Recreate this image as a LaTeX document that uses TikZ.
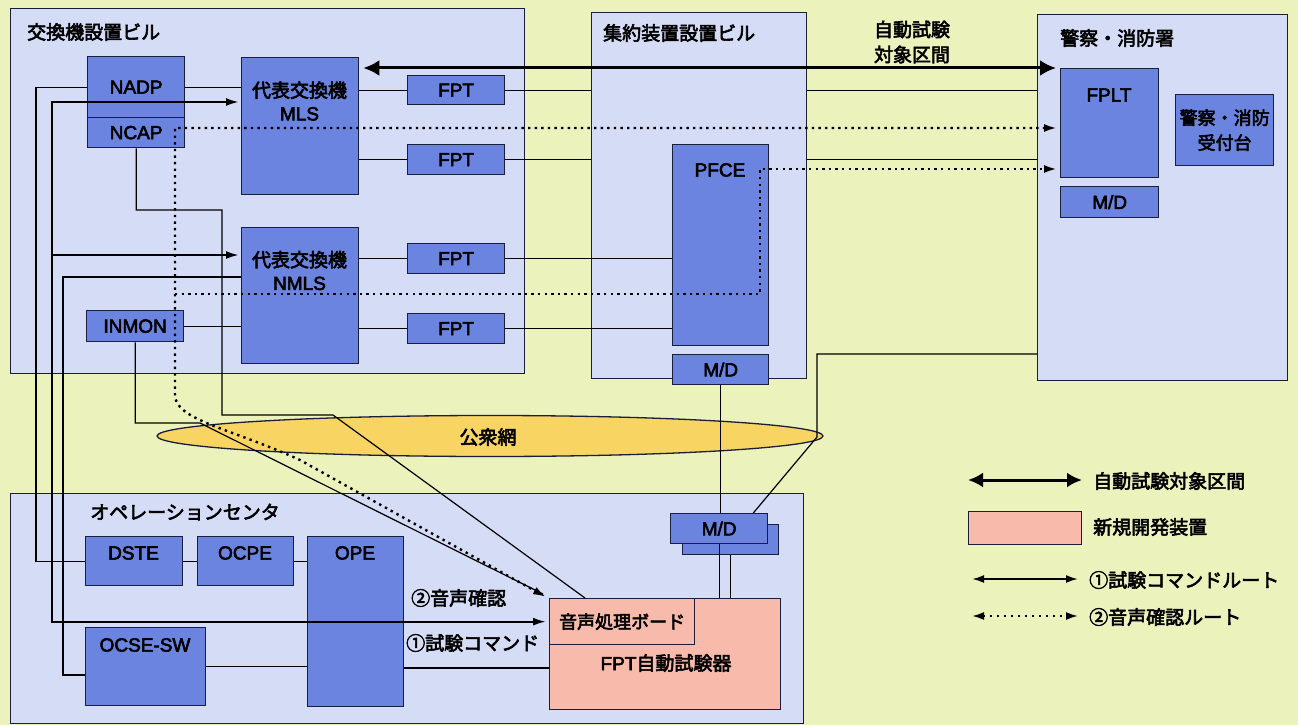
\documentclass[tikz,border=0pt]{standalone}
\usepackage{fontspec}
\setmainfont[UprightFeatures={FakeBold=3}]{Liberation Sans}
\newfontfamily\jp[FakeBold=3]{Noto Sans CJK JP}
\usetikzlibrary{arrows.meta,shapes.geometric,calc}
\definecolor{bgc}{RGB}{236,242,188}
\definecolor{bldc}{RGB}{213,221,246}
\definecolor{boxc}{RGB}{106,132,224}
\definecolor{netc}{RGB}{248,212,98}
\definecolor{newc}{RGB}{248,186,170}
\definecolor{edgec}{RGB}{25,30,60}
\begin{document}
\begin{tikzpicture}[x=1pt,y=-1pt,font=\fontsize{19}{23}\selectfont,
  bld/.style={draw=edgec,line width=1.3pt,fill=bldc,anchor=north west,inner sep=0pt},
  ibox/.style={draw=edgec,line width=1.3pt,fill=boxc,anchor=north west,inner sep=0pt,align=center},
  newbox/.style={draw=edgec,line width=1.3pt,fill=newc,anchor=north west,inner sep=0pt},
  txt/.style={inner sep=0pt,align=center},
  ttl/.style={inner sep=0pt,anchor=west},
  wire/.style={draw=black,line width=1.2pt},
  cmd/.style={draw=black,line width=2.2pt},
  voice/.style={draw=black,line width=2.4pt,dash pattern=on 2.4pt off 4.2pt},
  tipboth/.style={{Latex[length=13pt,width=8pt]}-{Latex[length=13pt,width=8pt]}},
  tipend/.style={-{Latex[length=13pt,width=8pt]}},
  bigarr/.style={line width=3pt,{Latex[length=16pt,width=16pt]}-{Latex[length=16pt,width=16pt]}}]
\useasboundingbox (0,0) rectangle (1298,725);
\fill[bgc] (0,0) rectangle (1298,725);

% buildings
\node[bld,minimum width=514pt,minimum height=365pt] (b1) at (10,8) {};
\node[bld,minimum width=215pt,minimum height=366pt] (b2) at (591,12) {};
\node[bld,minimum width=250pt,minimum height=366pt] (b3) at (1037,14) {};
\node[bld,minimum width=793pt,minimum height=230pt] (op) at (10,493) {};
\node[ttl] (t1) at (27,32) {\jp 交換機設置ビル};
\node[ttl] (t2) at (603,33) {\jp 集約装置設置ビル};
\node[ttl] (t3) at (1060,38) {\jp 警察・消防署};
\node[ttl] (t4) at (90,512) {\jp オペレーションセンタ};

% public network
\node[ellipse,draw=edgec,line width=1.3pt,fill=netc,minimum width=666pt,minimum height=41pt,inner sep=0pt] (net) at (490,436) {};
\node[txt] (nett) at (488,437) {\jp 公衆網};

% boxes
\node[ibox,minimum width=97pt,minimum height=61pt] (nadp) at (87,56) {NADP};
\node[ibox,minimum width=97pt,minimum height=30pt] (ncap) at (87,117) {NCAP};
\node[ibox,minimum width=117pt,minimum height=137pt] (mls) at (241,57) {};
\node[txt] (mlst) at (299.5,101) {\jp 代表交換機\\MLS};
\node[ibox,minimum width=117pt,minimum height=136pt] (nmls) at (241,227) {};
\node[txt] (nmlst) at (299.5,270.5) {\jp 代表交換機\\NMLS};
\node[ibox,minimum width=97pt,minimum height=31pt] (inmon) at (86,310) {INMON};
\node[ibox,minimum width=97pt,minimum height=29pt] (fpt1) at (407,75) {FPT};
\node[ibox,minimum width=97pt,minimum height=30pt] (fpt2) at (407,144) {FPT};
\node[ibox,minimum width=97pt,minimum height=30pt] (fpt3) at (407,243) {FPT};
\node[ibox,minimum width=97pt,minimum height=30pt] (fpt4) at (407,313) {FPT};
\node[ibox,minimum width=96pt,minimum height=201pt] (pfce) at (672,144) {};
\node[txt] (pfcet) at (720,170) {PFCE};
\node[ibox,minimum width=96pt,minimum height=30pt] (md1) at (672,354) {M/D};
\node[ibox,minimum width=98pt,minimum height=109pt] (fplt) at (1060,68) {};
\node[txt] (fpltt) at (1109,95) {FPLT};
\node[ibox,minimum width=98pt,minimum height=31pt] (md2) at (1060,186) {M/D};
\node[ibox,minimum width=98pt,minimum height=71pt,font=\fontsize{18}{25}\selectfont\jp] (desk) at (1175,94) {警察・消防\\受付台};
\node[ibox,minimum width=97pt,minimum height=49pt] (dste) at (85,536) {};
\node[txt] (dstet) at (133.5,553) {DSTE};
\node[ibox,minimum width=96pt,minimum height=49pt] (ocpe) at (197,536) {};
\node[txt] (ocpet) at (245,553) {OCPE};
\node[ibox,minimum width=96pt,minimum height=170pt] (ope) at (307,536) {};
\node[txt] (opet) at (355,553) {OPE};
\node[ibox,minimum width=120pt,minimum height=78pt] (ocse) at (85,627) {};
\node[txt] (ocset) at (145,645) {OCSE-SW};
\node[ibox,minimum width=96pt,minimum height=30pt] (md3b) at (682,524) {};
\node[ibox,minimum width=97pt,minimum height=30pt] (md3) at (670,513) {M/D};
\node[newbox,minimum width=231pt,minimum height=111pt] (fpta) at (549,598) {};
\node[txt] (fptat) at (666,663) {FPT\jp 自動試験器};
\node[newbox,minimum width=145pt,minimum height=46pt,font=\fontsize{18}{22}\selectfont\jp] (board) at (549,598) {音声処理ボード};

% labels
\node[txt,font=\fontsize{19}{25}\selectfont\jp] (rng) at (912,42) {自動試験\\対象区間};
\node[ttl] (lab2) at (411,598) {\jp ②音声確認};
\node[ttl] (lab1) at (406,643) {\jp ①試験コマンド};

% connectors
\draw[bigarr] ($(mls.north east)+(4,11)$) -- ($(fplt.north west)+(-4,0)$);
\draw[wire] (fpt1.west -| mls.east) -- (fpt1.west);
\draw[wire] (fpt1.east) -- (fpt1.east -| b2.west);
\draw[wire] (b2.east |- fpt1.east) -- (b3.west |- fpt1.east);
\draw[wire] (fpt2.west -| mls.east) -- (fpt2.west);
\draw[wire] (fpt2.east) -- (fpt2.east -| b2.west);
\draw[wire] (b2.east |- fpt2.east) -- (b3.west |- fpt2.east);
\draw[wire] (fpt3.west -| nmls.east) -- (fpt3.west);
\draw[wire] (fpt3.east) -- (fpt3.east -| pfce.west);
\draw[wire] (fpt4.west -| nmls.east) -- (fpt4.west);
\draw[wire] (fpt4.east) -- (fpt4.east -| pfce.west);
\draw[wire] (nadp.east) -- (nadp.east -| mls.west);
\draw[wire] (inmon.east) -- (inmon.east -| nmls.west);

\coordinate (xa) at (36,0);
\draw[wire] (nadp.west) -- (nadp.west -| xa) -- (dste.west -| xa) -- (dste.west);
\coordinate (xc) at (63,0);
\coordinate (nm1) at ($(nmls.north west)+(0,50)$);
\coordinate (oc1) at ($(ocse.north west)+(0,48)$);
\draw[wire] (nm1) -- (nm1 -| xc) -- (oc1 -| xc) -- (oc1);
\draw[wire] (ncap.south) |- (222,210) -- (222,415) -- (333,415) -- ($(fpta.north west)+(36,0)$);
\draw[wire] (inmon.south) |- (200,423) -- ($(fpta.north west)+(-6,-4)$);

\draw[wire] (dste.east) -- (ocpe.west);
\draw[wire] (ocpe.east) -- (ocpe.east -| ope.west);
\draw[wire] (ocse.east) -- (ocse.east -| ope.west);
\coordinate (y668) at (0,668);
\draw[wire] (ope.east |- y668) -- (fpta.west |- y668);

% route 1
\coordinate (xb) at (52,0);
\coordinate (m1) at ($(mls.north west)+(-2,45)$);
\coordinate (n1) at ($(nmls.north west)+(-2,28)$);
\draw[cmd,tipboth] (m1) -- (m1 -| xb) -- (board.west -| xb) -- ($(board.west)+(-3,0)$);
\draw[cmd,tipend] (n1 -| xb) -- (n1);

% route 2
\coordinate (xd) at (175,0);
\coordinate (f1) at ($(fplt.north west)+(-3,60)$);
\coordinate (f2) at ($(fplt.north west)+(-3,101)$);
\draw[voice,tipboth] (f1) -- (f1 -| xd) -- (175,395) .. controls (175,420) and (230,428) .. (300,460) -- ($(fpta.north west)+(-3,-1)$);
\draw[voice,tipend] (175,294) -- (760,294) -- (760,169) -- (f2);

% modem links
\draw[wire] (md1.south) -- (md1.south |- md3.north);
\draw[wire] (md3.south) -- (md3.south |- fpta.north);
\draw[wire] (md3b.south) -- (md3b.south |- fpta.north);
\coordinate (p1) at ($(b3.north west)+(0,340)$);
\draw[wire] (p1) -| (817,437) -- ($(md3.north east)+(-15,0)$);

% legend
\coordinate (lg1a) at (968,480);
\coordinate (lg1b) at (1082,480);
\draw[line width=3pt,{Latex[length=15pt,width=15pt]}-{Latex[length=15pt,width=15pt]}] (lg1a) -- (lg1b);
\node[ttl] (lg1t) at (1093,481) {\jp 自動試験対象区間};
\node[newbox,minimum width=113pt,minimum height=33pt] (lgbox) at (968,511) {};
\node[ttl] (lg2t) at (1093,527) {\jp 新規開発装置};
\coordinate (lg3a) at (972,579);
\coordinate (lg3b) at (1078,579);
\draw[line width=2pt,{Latex[length=12pt,width=8pt]}-{Latex[length=12pt,width=8pt]}] (lg3a) -- (lg3b);
\node[ttl] (lg3t) at (1089,580) {\jp ①試験コマンドルート};
\coordinate (lg4a) at (972,616);
\coordinate (lg4b) at (1078,616);
\draw[line width=2pt,dash pattern=on 2pt off 5pt,{Latex[length=12pt,width=8pt]}-{Latex[length=12pt,width=8pt]}] (lg4a) -- (lg4b);
\node[ttl] (lg4t) at (1089,617) {\jp ②音声確認ルート};
\end{tikzpicture}
\end{document}
